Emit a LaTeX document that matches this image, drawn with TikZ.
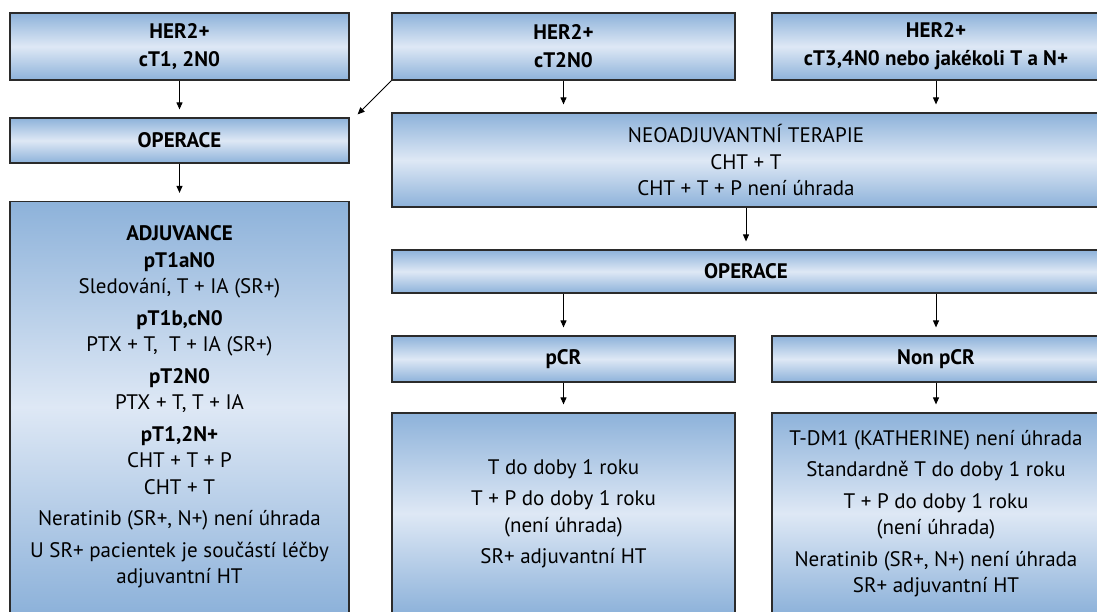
\documentclass[tikz,border=0pt]{standalone}
\usepackage{fontspec}
\setmainfont{PT Sans}
\usetikzlibrary{positioning, arrows.meta}
\definecolor{boxedge}{HTML}{8DB2DA}
\definecolor{boxmid}{HTML}{DEE8F5}
\definecolor{boxline}{HTML}{2B2B2B}
\tikzset{
    ->, % every connector gets a head
    >={Triangle[length=7pt,width=6pt]}, % small filled heads
    shorten >=8pt, % leaves a gap before the next box
    panel/.style={draw=boxline, line width=1.2pt, top color=boxedge, bottom color=boxedge, middle color=boxmid, inner sep=0pt, align=center, font=\fontsize{21}{26.5}\selectfont}, % shaded box
    head/.style={panel, font=\bfseries\fontsize{21}{28}\selectfont}, % box with bold text
    leftcol/.style={minimum width=339}, % left column
    midcol/.style={minimum width=343}, % pCR column
    rightcol/.style={minimum width=328}, % non pCR column
    widecol/.style={minimum width=708}, % both columns on the right
}

\begin{document}
\begin{tikzpicture}[x=1pt, y=-1pt, line width=1pt]
    \useasboundingbox (0,0) rectangle (1097,611);
    \node[head, leftcol, minimum height=67] (her2a) at (179.5,46.5) {HER2+\\cT1, 2N0};
    \node[head, midcol, minimum height=67] (her2b) at (563.5,46.5) {HER2+\\cT2N0};
    \node[head, rightcol, minimum height=67] (her2c) at (936,46.5) {HER2+\\cT3,4N0 nebo jakékoli T a N+};
    \node[head, leftcol, minimum height=45] (opl) at (179.5,140.5) {OPERACE};
    \node[panel, leftcol, minimum height=411] (adj) at (179.5,407) {\textbf{ADJUVANCE}\\
        \textbf{pT1aN0}\\
        Sledování, T + IA (SR+)\\[5pt]
        \textbf{pT1b,cN0}\\
        PTX + T,\ \ T + IA (SR+)\\[5pt]
        \textbf{pT2N0}\\
        PTX + T, T + IA\\[5pt]
        \textbf{pT1,2N+}\\
        CHT + T + P\\
        CHT + T\\[5pt]
        Neratinib (SR+, N+) není úhrada\\[5pt]
        U SR+ pacientek je součástí léčby\\
        adjuvantní HT};
    \node[panel, widecol, minimum height=94] (neo) at (746,160) {NEOADJUVANTNÍ TERAPIE\\CHT + T\\CHT + T + P není úhrada};
    \node[head, widecol, minimum height=43] (opr) at (746,271.5) {OPERACE};
    \node[head, midcol, minimum height=46] (pcr) at (563.5,359) {pCR};
    \node[head, rightcol, minimum height=46] (npcr) at (936,359) {Non pCR};
    \node[panel, midcol, minimum height=201] (pcrtx) at (563.5,513.5) {T do doby 1 roku\\[5pt]
        T + P do doby 1 roku\\
        (není úhrada)\\[5pt]
        SR+ adjuvantní HT};
    \node[panel, rightcol, minimum height=201] (npcrtx) at (936,513.5) {T-DM1 (KATHERINE) není úhrada\\[5pt]
        Standardně T do doby 1 roku\\[5pt]
        T + P do doby 1 roku\\
        (není úhrada)\\[5pt]
        Neratinib (SR+, N+) není úhrada\\
        SR+ adjuvantní HT};
    \draw (her2a) -- (opl);
    \draw (opl) -- (adj);
    \draw[shorten >=0pt] (her2b.south west) -- ([shift={(8,-3)}]opl.north east);
    \draw (her2b.south) -- (her2b.south |- neo.north);
    \draw (her2c.south) -- (her2c.south |- neo.north);
    \draw (neo) -- (opr);
    \draw (pcr.north |- opr.south) -- (pcr);
    \draw (npcr.north |- opr.south) -- (npcr);
    \draw (pcr) -- (pcrtx);
    \draw (npcr) -- (npcrtx);
\end{tikzpicture}
\end{document}
